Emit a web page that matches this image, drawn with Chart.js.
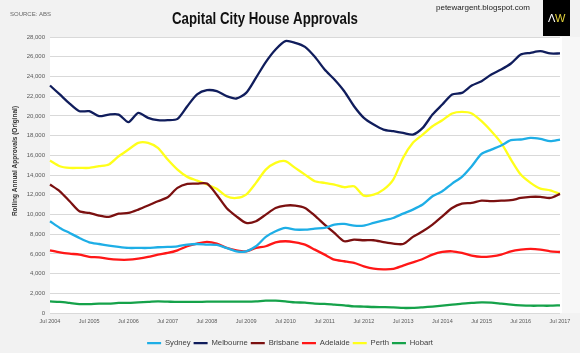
<!DOCTYPE html>
<html>
<head>
<meta charset="utf-8">
<script src="https://cdn.jsdelivr.net/npm/chart.js@4.4.1/dist/chart.umd.min.js"></script>
<style>
  html, body { margin:0; padding:0; background:#f2f2f2; }
  #wrap { width:580px; height:353px; }
</style>
</head>
<body>
<div id="wrap"><canvas id="chart" width="580" height="353"></canvas></div>
<script>
// DATA (quarterly readings, Jul 2004 .. Jul 2017)
const quarters = [
    "Jul 2004","Oct 2004","Jan 2005","Apr 2005","Jul 2005","Oct 2005","Jan 2006","Apr 2006",
    "Jul 2006","Oct 2006","Jan 2007","Apr 2007","Jul 2007","Oct 2007","Jan 2008","Apr 2008",
    "Jul 2008","Oct 2008","Jan 2009","Apr 2009","Jul 2009","Oct 2009","Jan 2010","Apr 2010",
    "Jul 2010","Oct 2010","Jan 2011","Apr 2011","Jul 2011","Oct 2011","Jan 2012","Apr 2012",
    "Jul 2012","Oct 2012","Jan 2013","Apr 2013","Jul 2013","Oct 2013","Jan 2014","Apr 2014",
    "Jul 2014","Oct 2014","Jan 2015","Apr 2015","Jul 2015","Oct 2015","Jan 2016","Apr 2016",
    "Jul 2016","Oct 2016","Jan 2017","Apr 2017","Jul 2017"
];

const sydney = [9310,8630,8120,7610,7170,7000,6840,6700,6600,6600,6600,6670,6700,6770,6940,7000,6940,6900,
    6600,6260,6260,6770,7720,8290,8630,8460,8460,8560,8630,8970,9040,8870,8870,9140,9400,9640,10080,10490,
    11000,11840,12350,13130,13810,14890,16140,16580,16990,17530,17600,17770,17660,17430,17600];
const melbourne = [23080,22170,21250,20470,20470,19970,20130,20130,19360,20300,19800,19560,19560,19700,20980,
    22170,22600,22500,22000,21760,22330,23860,25450,26730,27580,27410,27000,25990,24700,23690,22500,20980,19800,
    19120,18610,18440,18270,18100,18780,20130,21150,22170,22330,23080,23520,24200,24700,25310,26230,26400,26560,26330,26330];
const brisbane = [13030,12350,11340,10320,10150,9880,9750,10080,10150,10490,10900,11340,11740,12690,13100,13130,
    13130,12000,10660,9810,9140,9310,9980,10660,10900,10900,10660,9880,8970,8120,7280,7440,7380,7380,7200,7040,
    7000,7720,8290,8970,9810,10660,11100,11170,11400,11340,11400,11440,11670,11780,11780,11670,12080];
const adelaide = [6360,6160,6020,5920,5690,5650,5480,5410,5410,5520,5690,5920,6090,6360,6770,7040,7210,7040,6600,
    6360,6260,6600,6770,7170,7280,7170,6940,6430,5920,5410,5250,5080,4740,4500,4430,4470,4810,5140,5480,5920,6190,
    6260,6090,5820,5690,5750,5920,6260,6430,6500,6430,6260,6190];
const perth = [15470,14890,14720,14720,14720,14890,15060,15900,16580,17260,17260,16750,15570,14550,13810,13430,
    13030,12600,11840,11670,12010,13200,14550,15230,15400,14720,14040,13370,13200,13030,12760,12860,11910,12010,
    12520,13540,15740,17260,18100,18950,19560,20240,20400,20240,19460,18440,17260,15570,14040,13200,12620,12450,12080];
const hobart = [1180,1120,1020,910,910,950,950,1020,1020,1080,1120,1180,1150,1120,1120,1120,1150,1150,1150,1150,
    1150,1180,1250,1250,1180,1080,1050,950,920,850,780,680,650,610,600,580,510,520,580,650,740,850,950,1020,1080,
    1050,950,850,780,740,740,740,780];

const seriesNames = ["Sydney","Melbourne","Brisbane","Adelaide","Perth","Hobart"];
const seriesData = [sydney, melbourne, brisbane, adelaide, perth, hobart];
const seriesColors = ["#1eaee6","#101d5c","#7b1010","#ff1717","#ffff1a","#15a24a"];

const SANS = "'Liberation Sans', Arial, sans-serif";

// BACKGROUND + HEADER + AXIS TITLE
const decor = {
    id:'decor',
    beforeDraw(chart){
        const {ctx, chartArea:a} = chart;
        ctx.save();
        ctx.fillStyle = '#f2f2f2';
        ctx.fillRect(0,0,chart.width,chart.height);
        ctx.fillStyle = '#f7f7f7';
        ctx.fillRect(a.right, a.top, chart.width - a.right, a.bottom - a.top);
        ctx.fillStyle = '#ffffff';
        ctx.fillRect(a.left, a.top, a.right - a.left + 2, a.bottom - a.top);
        ctx.restore();
    },
    afterDraw(chart){
        const ctx = chart.ctx;
        ctx.save();
        ctx.fillStyle = '#666';
        ctx.font = "6px " + SANS;
        ctx.textBaseline = 'middle';
        ctx.fillText("SOURCE: ABS", 10, 14);

        // title, squeezed a bit like the original
        ctx.fillStyle = '#111';
        ctx.font = "bold 17px " + SANS;
        const t = "Capital City House Approvals";
        const sx = 186 / ctx.measureText(t).width;
        ctx.translate(265, 19);
        ctx.scale(sx, 1);
        ctx.textAlign = 'center';
        ctx.fillText(t, 0, 0);
        ctx.setTransform(1,0,0,1,0,0);

        ctx.fillStyle = '#222';
        ctx.font = "8px " + SANS;
        ctx.textAlign = 'left';
        ctx.fillText("petewargent.blogspot.com", 436, 8);

        // logo
        ctx.fillStyle = '#000';
        ctx.fillRect(543, 0, 27, 36);
        ctx.font = "11px " + SANS;
        ctx.fillStyle = '#fff';
        ctx.fillText("\u039B", 548, 19);
        ctx.fillStyle = '#e4d43c';
        ctx.fillText("W", 555, 19);

        // y axis title
        ctx.fillStyle = '#333';
        ctx.font = "bold 6.5px " + SANS;
        ctx.translate(15, 161);
        ctx.rotate(-Math.PI/2);
        ctx.textAlign = 'center';
        ctx.fillText("Rolling Annual Approvals (Original)", 0, 0);
        ctx.restore();
    }
};

new Chart(document.getElementById('chart'), {
    type:'line',
    data:{
        labels: quarters,
        datasets: seriesNames.map((n,i)=>({
            label:n,
            data:seriesData[i],
            borderColor:seriesColors[i],
            backgroundColor:seriesColors[i],
            borderWidth:2.3,
            pointRadius:0,
            tension:0.25,
            fill:false
        }))
    },
    options:{
        responsive:false,
        animation:false,
        layout:{ padding:{ top:37, right:20, left:20, bottom:-4 } },
        plugins:{
            legend:{
                position:'bottom',
                labels:{
                    usePointStyle:true,
                    pointStyle:'line',
                    pointStyleWidth:14,
                    padding:3,
                    color:'#404040',
                    font:{ family:SANS, size:7.7 }
                }
            },
            tooltip:{ enabled:false }
        },
        scales:{
            x:{
                grid:{ display:false, drawTicks:false },
                border:{ display:false },
                afterFit(s){ s.height = 23.3; },
                ticks:{
                    autoSkip:false, maxRotation:0, padding:5,
                    color:'#595959',
                    font:{ family:SANS, size:5.5 },
                    callback(v,i){ return i%4===0 ? quarters[i] : ''; }
                }
            },
            y:{
                min:0, max:28000,
                afterFit(s){ s.width = 30; },
                grid:{ color:'#d9d9d9', drawTicks:false, lineWidth:1 },
                border:{ display:false },
                ticks:{
                    stepSize:2000, padding:5,
                    color:'#595959',
                    font:{ family:SANS, size:6 },
                    callback(v){ return v.toLocaleString('en-US'); }
                }
            }
        }
    },
    plugins:[decor]
});
</script>
</body>
</html>
